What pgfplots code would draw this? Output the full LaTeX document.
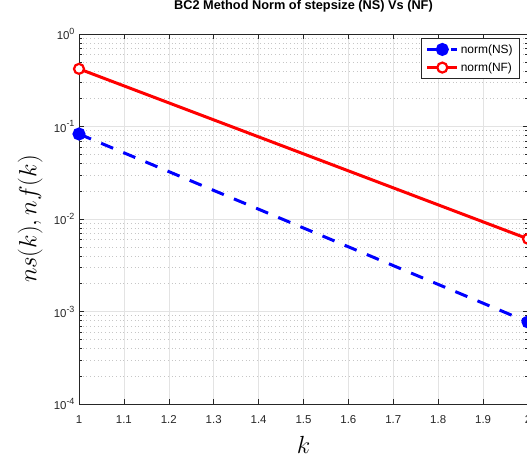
\documentclass[border=0pt]{standalone}
\usepackage{pgfplots}
\pgfplotsset{compat=1.18}
\usepackage{fontspec}
\setmainfont{Liberation Sans}
\definecolor{axgray}{RGB}{38,38,38}
\newcommand{\tenpow}[1]{10\raisebox{0.45em}{\fontsize{9}{10}\selectfont #1}}
\begin{document}
\begin{tikzpicture}
\begin{axis}[
  scale only axis, width=449bp, height=370bp,
  at={(0,0)}, anchor=south west,
  xmin=1, xmax=2, ymode=log, ymin=1e-4, ymax=1,
  xtick={1,1.1,1.2,1.3,1.4,1.5,1.6,1.7,1.8,1.9,2},
  xticklabels={1,1.1,1.2,1.3,1.4,1.5,1.6,1.7,1.8,1.9,2},
  ytick={1e-4,1e-3,1e-2,1e-1,1},
  yticklabels={{\tenpow{-4}},{\tenpow{-3}},{\tenpow{-2}},{\tenpow{-1}},{\tenpow{0}}},
  tick align=inside,
  major tick length=5bp, minor tick length=3bp,
  tick style={axgray, line width=0.6bp},
  axis line style={axgray, line width=0.7bp},
  ticklabel style={font=\fontsize{11.5}{13}\selectfont, text=axgray},
  xticklabel style={yshift=-8bp},
  yticklabel style={xshift=-1bp},
  grid=both,
  major grid style={gray!22, line width=0.6bp},
  minor grid style={gray!45, line width=0.6bp, dash pattern=on 0.7bp off 3bp},
  clip=false,
  title={BC2 Method Norm of stepsize (NS) Vs (NF)},
  title style={font=\bfseries\fontsize{12.8}{14}\selectfont, at={(axis description cs:0.5,1)}, anchor=center, yshift=22bp},
  xlabel={$k$},
  xlabel style={font=\fontsize{24}{28}\selectfont, at={(axis description cs:0.5,0)}, anchor=center, yshift=-41bp},
  ylabel={$ns(k), nf(k)$},
  ylabel style={font=\fontsize{24}{28}\selectfont, at={(axis description cs:-0.109,0.5)}, anchor=center},
  legend style={at={(axis description cs:0.982,0.989)}, anchor=north east,
    font=\fontsize{12}{14}\selectfont, draw=axgray, line width=0.6bp,
    inner xsep=5bp, inner ysep=4bp, row sep=4bp},
  legend cell align=left,
  legend image code/.code={\draw[mark repeat=2,mark phase=2] plot coordinates {(0bp,0bp)(15bp,0bp)(30bp,0bp)};},
]
\addplot[blue, line width=3bp, dash pattern=on 13bp off 11bp, mark=*, mark size=5bp, mark options={solid, fill=blue}]
  coordinates {(1,0.083) (2,0.00077)};
\addlegendentry{norm(NS)}
\addplot[red, line width=3bp, mark=*, mark size=5bp, mark options={solid, fill=white, draw=red, line width=2.2bp}]
  coordinates {(1,0.42) (2,0.0061)};
\addlegendentry{norm(NF)}
\end{axis}
\pgfresetboundingbox
\path (-79bp,-53bp) rectangle (448bp,404bp);
\end{tikzpicture}
\end{document}
